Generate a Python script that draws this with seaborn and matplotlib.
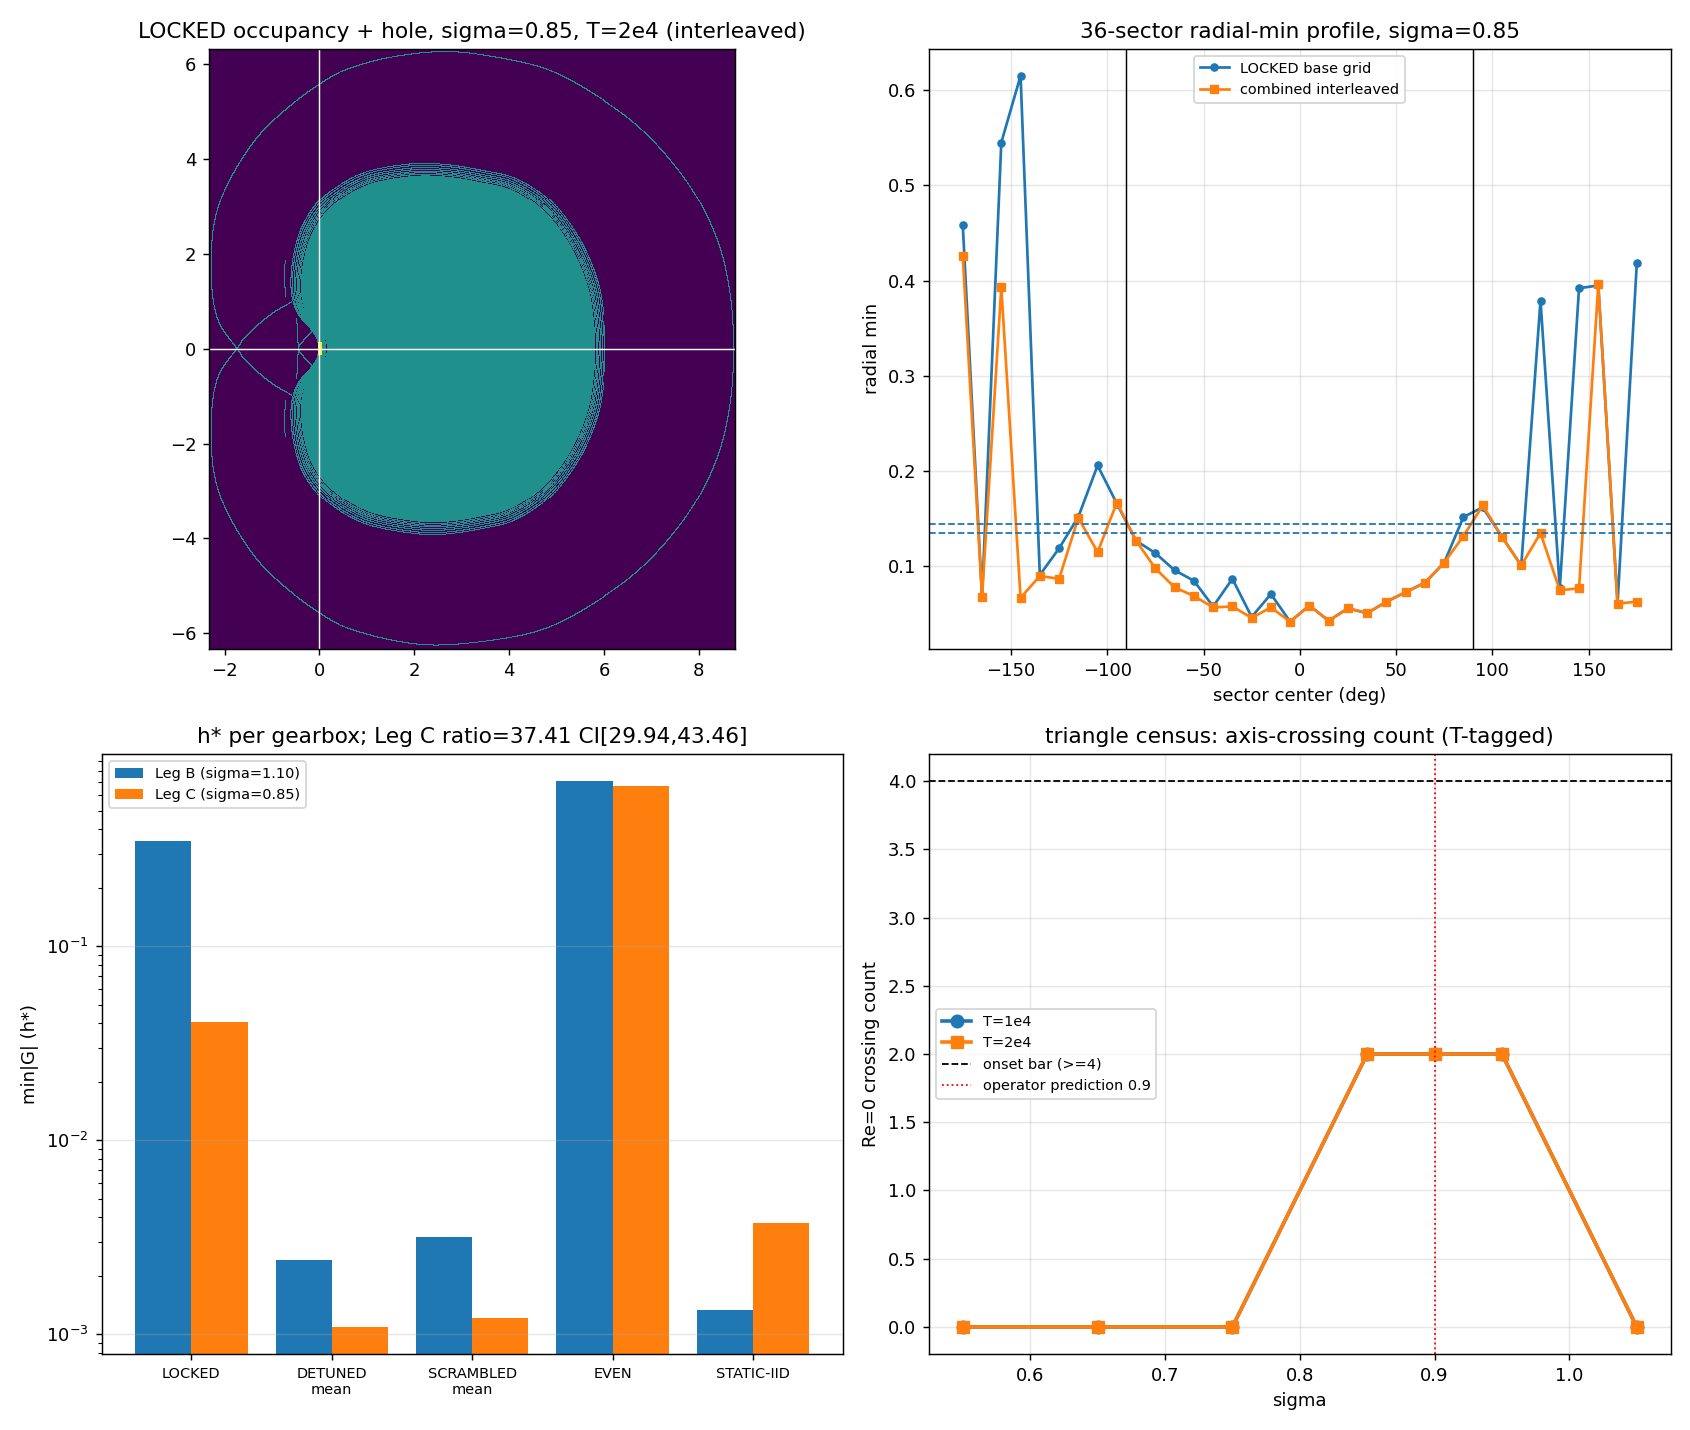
import numpy as np
import pandas as pd
import matplotlib
matplotlib.use("Agg")
import matplotlib.pyplot as plt
import seaborn as sns
from matplotlib.path import Path

# ---------------- Panel 1: occupancy shapes ----------------
# filled body boundary (outermost ring), upper half from notch over the top to the right
body_upper_x = [-0.03, -0.07, -0.21, -0.45, -0.58, -0.61, -0.54, -0.36, 0.0, 0.52, 1.1, 1.97, 2.7, 3.43, 4.15, 4.88, 5.46, 5.83, 5.97, 6.02]
body_upper_y = [0.0, 0.22, 0.43, 0.71, 1.05, 1.48, 2.04, 2.6, 3.13, 3.51, 3.76, 3.9, 3.88, 3.76, 3.58, 3.09, 2.32, 1.48, 0.78, 0.0]
# lower half from right back to the notch
body_lower_x = [5.97, 5.83, 5.46, 4.88, 4.15, 3.43, 2.6, 1.97, 1.1, 0.52, 0.0, -0.36, -0.54, -0.61, -0.58, -0.45, -0.21, -0.07]
body_lower_y = [-0.78, -1.48, -2.32, -3.09, -3.6, -3.8, -3.92, -3.9, -3.74, -3.48, -3.1, -2.6, -2.04, -1.48, -1.05, -0.71, -0.43, -0.22]

# outer trajectory: upper notch -> crossing -> around the bottom, right, top -> crossing -> lower notch
loop_x = [-0.57, -0.94, -1.30, -1.59, -1.74, -2.10, -2.25, -2.28, -2.25, -2.10, -1.81, -1.30, -0.65, 0.0, 0.52,
          1.46, 2.5, 3.93, 4.88, 5.83, 6.70, 7.43, 8.01, 8.44, 8.66, 8.72, 8.66, 8.44, 8.01, 7.43, 6.70, 5.83,
          4.88, 3.93, 2.70, 1.46, 0.52, 0.0, -0.65, -1.30, -1.81, -2.10, -2.25, -2.28, -2.25, -2.10, -1.74,
          -1.59, -1.30, -0.94, -0.57]
loop_y = [0.99, 0.78, 0.50, 0.22, 0.0, -0.50, -1.06, -1.76, -2.46, -3.09, -3.72, -4.48, -5.1, -5.58, -5.86,
          -6.13, -6.25, -6.10, -5.85, -5.33, -4.70, -3.93, -3.09, -2.11, -1.06, 0.0, 1.06, 2.11, 3.09, 3.93,
          4.70, 5.33, 5.85, 6.10, 6.26, 6.13, 5.86, 5.58, 5.1, 4.48, 3.72, 3.09, 2.46, 1.76, 1.06, 0.50, 0.0,
          -0.22, -0.50, -0.78, -0.99]
# small arcs near the notch
arc1_x = [-0.49, -0.47, -0.46, -0.47, -0.49]
arc1_y = [0.64, 0.3, 0.0, -0.3, -0.64]
arc2_x = [-0.73, -0.75, -0.72]
arc2_y = [1.85, 1.5, 1.1]
arc3_x = [-0.72, -0.75, -0.73]
arc3_y = [-1.1, -1.5, -1.85]
arc4_x = [-0.17, -0.32, -0.45]
arc4_y = [0.36, 0.2, 0.04]
arc5_x = [-0.17, -0.32, -0.45]
arc5_y = [-0.36, -0.2, -0.04]
hole_x = [-0.05, 0.04]
hole_y = [-0.13, 0.13]
img_extent = [-2.33, 8.77, -6.33, 6.33]

# ---------------- Panel 2: radial-min profile ----------------
sector_deg = list(range(-175, 180, 10))
locked_base = [0.458, 0.068, 0.545, 0.615, 0.091, 0.119, 0.152, 0.206, 0.166, 0.127, 0.114, 0.096,
               0.085, 0.058, 0.087, 0.047, 0.071, 0.042, 0.059, 0.043, 0.056, 0.051, 0.063, 0.073,
               0.083, 0.104, 0.152, 0.162, 0.131, 0.101, 0.379, 0.077, 0.392, 0.395, 0.061, 0.418]
combined = [0.426, 0.068, 0.393, 0.067, 0.090, 0.087, 0.151, 0.115, 0.167, 0.127, 0.098, 0.078,
            0.069, 0.057, 0.058, 0.046, 0.057, 0.042, 0.059, 0.043, 0.056, 0.051, 0.063, 0.073,
            0.083, 0.104, 0.132, 0.164, 0.131, 0.101, 0.135, 0.075, 0.077, 0.396, 0.061, 0.063]
thresholds = [0.1442, 0.1347]
sector_edges = [-90, 90]

# ---------------- Panel 3: h* per gearbox ----------------
gearboxes = ["LOCKED", "DETUNED\nmean", "SCRAMBLED\nmean", "EVEN", "STATIC-IID"]
leg_b = [0.349, 0.00242, 0.00318, 0.710, 0.00134]
leg_c = [0.0408, 0.00109, 0.00121, 0.668, 0.00376]
leg_names = ["Leg B (sigma=1.10)", "Leg C (sigma=0.85)"]

# ---------------- Panel 4: triangle census ----------------
sigmas = [0.55, 0.65, 0.75, 0.85, 0.90, 0.95, 1.05]
count_t1 = [0, 0, 0, 2, 2, 2, 0]
count_t2 = [0, 0, 0, 2, 2, 2, 0]
onset_bar = 4.0
operator_pred = 0.9


# ---------------- helpers ----------------
def catmull(xs, ys, closed, n=200):
    P = np.column_stack([xs, ys]).astype(float)
    if closed:
        P = np.vstack([P[-1], P, P[0], P[1]])
    else:
        P = np.vstack([2 * P[0] - P[1], P, 2 * P[-1] - P[-2]])
    t = np.linspace(0, 1, n, endpoint=False)[:, None]
    out = []
    for i in range(1, len(P) - 2):
        p0, p1, p2, p3 = P[i - 1], P[i], P[i + 1], P[i + 2]
        seg = 0.5 * ((2 * p1) + (-p0 + p2) * t + (2 * p0 - 5 * p1 + 4 * p2 - p3) * t ** 2
                     + (-p0 + 3 * p1 - 3 * p2 + p3) * t ** 3)
        out.append(seg)
    out.append(P[-2][None])
    return np.vstack(out)


def smooth_open(curve, w):
    pad = np.vstack([np.repeat(curve[:1], w, 0), curve, np.repeat(curve[-1:], w, 0)])
    k = np.ones(w) / w
    sx = np.convolve(pad[:, 0], k, mode="same")[w:-w]
    sy = np.convolve(pad[:, 1], k, mode="same")[w:-w]
    return np.column_stack([sx, sy])


x0, x1, y0, y1 = img_extent
cell = 0.021
nx = int(round((x1 - x0) / cell))
ny = int(round((y1 - y0) / cell))
dx = (x1 - x0) / nx
dy = (y1 - y0) / ny
cx = x0 + (np.arange(nx) + 0.5) * dx
cy = y0 + (np.arange(ny) + 0.5) * dy
CX, CY = np.meshgrid(cx, cy)
occ = np.zeros((ny, nx))


def stamp(curve):
    ix = np.floor((curve[:, 0] - x0) / dx).astype(int)
    iy = np.floor((curve[:, 1] - y0) / dy).astype(int)
    ok = (ix >= 0) & (ix < nx) & (iy >= 0) & (iy < ny)
    occ[iy[ok], ix[ok]] = 1


body_x = np.array(body_upper_x + body_lower_x)
body_y = np.array(body_upper_y + body_lower_y)
body = catmull(body_x, body_y, closed=True, n=80)
centre = np.array([2.6, 0.0])
inner = (body - centre) * 0.935 + centre
inside = Path(inner).contains_points(np.column_stack([CX.ravel(), CY.ravel()])).reshape(ny, nx)
occ[inside] = 1
for s in [0.942, 0.95, 0.958, 0.968, 0.978, 0.99, 1.0]:
    stamp((body - centre) * s + centre)
loop_curve = smooth_open(catmull(loop_x, loop_y, closed=False, n=300), 150)
stamp(loop_curve)
for ax_, ay_ in [(arc1_x, arc1_y), (arc2_x, arc2_y), (arc3_x, arc3_y), (arc4_x, arc4_y), (arc5_x, arc5_y)]:
    stamp(catmull(ax_, ay_, closed=False, n=200))
hole = (CX >= hole_x[0]) & (CX <= hole_x[1]) & (CY >= hole_y[0]) & (CY <= hole_y[1])
occ[hole] = 2

# ---------------- figure ----------------
fig, axes = plt.subplots(2, 2, figsize=(13, 11))
ax1, ax2, ax3, ax4 = axes.ravel()

# panel 1
ax1.imshow(occ, origin="lower", extent=img_extent, cmap="viridis", vmin=0, vmax=2,
           interpolation="nearest")
ax1.axhline(0, color="white", lw=0.8)
ax1.axvline(0, color="white", lw=0.8)
ax1.set_title("LOCKED occupancy + hole, sigma=0.85, T=2e4 (interleaved)")

# panel 2
sns.lineplot(x=sector_deg, y=locked_base, marker="o", markersize=4, lw=1.5, color="C0",
             markeredgecolor="C0", label="LOCKED base grid", ax=ax2)
sns.lineplot(x=sector_deg, y=combined, marker="s", markersize=4.5, lw=1.5, color="C1",
             markeredgecolor="C1", label="combined interleaved", ax=ax2)
for th in thresholds:
    ax2.axhline(th, color="C0", ls="--", lw=1)
for e in sector_edges:
    ax2.axvline(e, color="black", lw=0.8)
ax2.set_title("36-sector radial-min profile, sigma=0.85")
ax2.set_xlabel("sector center (deg)")
ax2.set_ylabel("radial min")
ax2.grid(True, alpha=0.3)
ax2.legend(fontsize=8, loc="upper center")

# panel 3
df3 = pd.DataFrame({
    "gearbox": gearboxes * 2,
    "value": leg_b + leg_c,
    "leg": [leg_names[0]] * len(gearboxes) + [leg_names[1]] * len(gearboxes),
})
sns.barplot(data=df3, x="gearbox", y="value", hue="leg", palette=["C0", "C1"],
            errorbar=None, saturation=1, width=0.8, ax=ax3)
ax3.set_yscale("log")
lo = np.log10(min(leg_b + leg_c))
hi = np.log10(max(leg_b + leg_c))
pad = 0.05 * (hi - lo)
ax3.set_ylim(10 ** (lo - pad), 10 ** (hi + pad))
ax3.set_xlim(-0.64, len(gearboxes) - 1 + 0.64)
ax3.set_xlabel("")
ax3.set_ylabel("min|G| (h*)")
ax3.set_title("h* per gearbox; Leg C ratio=37.41 CI[29.94,43.46]")
ax3.tick_params(axis="x", labelsize=8)
ax3.grid(True, axis="y", alpha=0.3)
ax3.set_axisbelow(False)
ax3.legend(fontsize=8, loc="upper left")

# panel 4
sns.lineplot(x=sigmas, y=count_t1, marker="o", markersize=7, lw=2, color="C0",
             markeredgecolor="C0", label="T=1e4", ax=ax4)
sns.lineplot(x=sigmas, y=count_t2, marker="s", markersize=7, lw=2, color="C1",
             markeredgecolor="C1", label="T=2e4", ax=ax4)
ax4.axhline(onset_bar, color="black", ls="--", lw=1, label="onset bar (>=4)")
ax4.axvline(operator_pred, color="red", ls=":", lw=1, label="operator prediction 0.9")
ax4.set_title("triangle census: axis-crossing count (T-tagged)")
ax4.set_xlabel("sigma")
ax4.set_ylabel("Re=0 crossing count")
ax4.grid(True, alpha=0.3)
ax4.legend(fontsize=8, loc="center left")

fig.tight_layout()
fig.savefig("out.png", dpi=130)
